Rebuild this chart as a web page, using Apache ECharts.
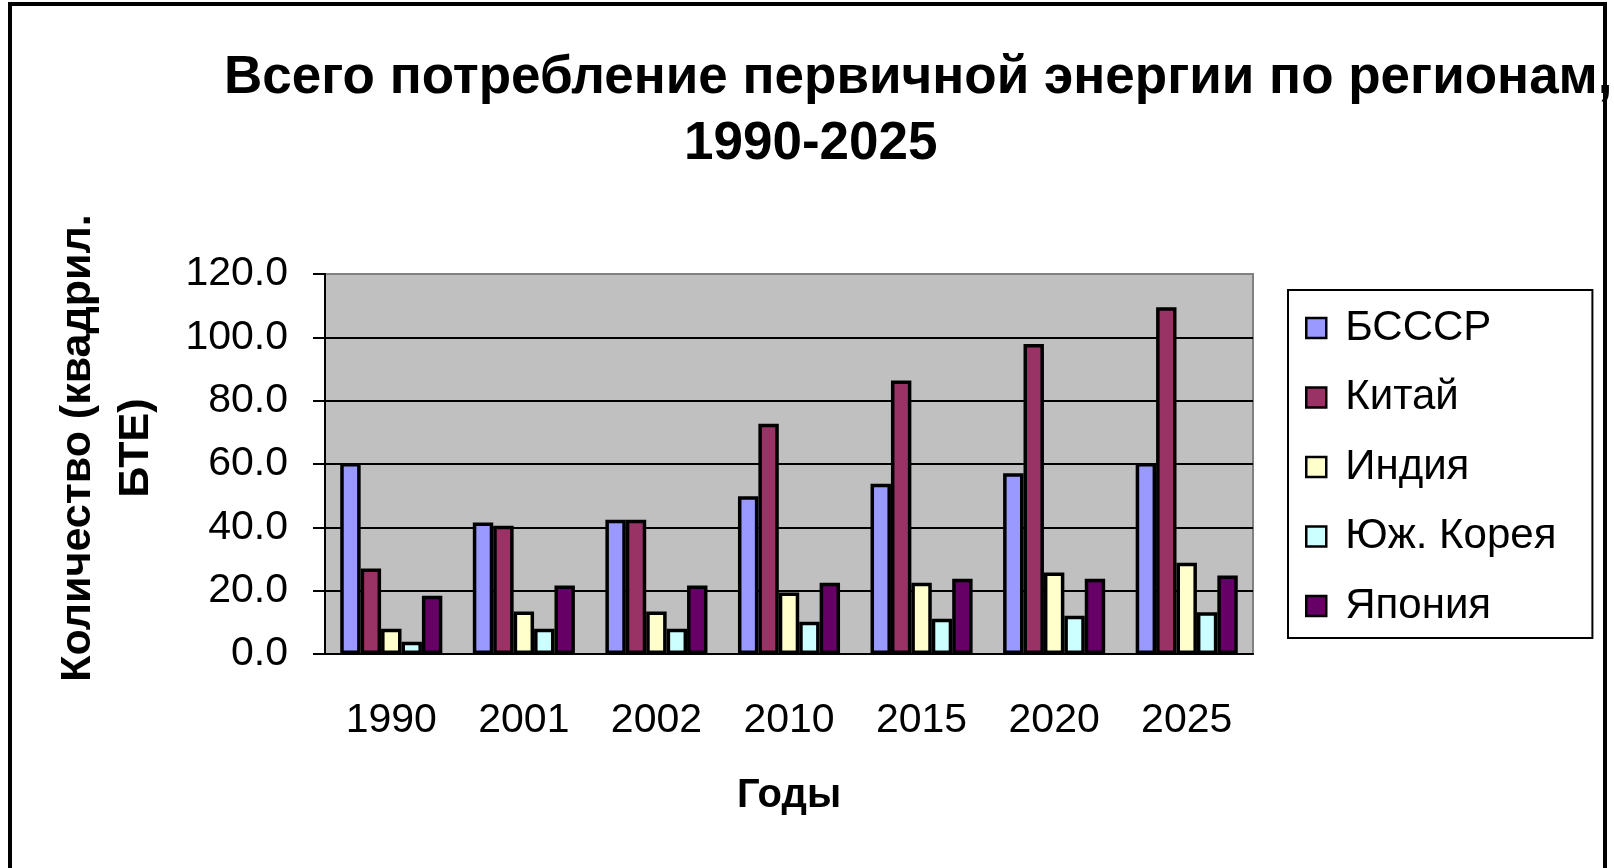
<!DOCTYPE html>
<html>
<head>
<meta charset="utf-8">
<script src="https://cdn.jsdelivr.net/npm/echarts@6/dist/echarts.min.js"></script>
<style>
	html, body { margin: 0; padding: 0; background: #fff; }
	#main { width: 1614px; height: 868px; }
</style>
</head>
<body>
<div id="main"></div>
<script>
// données (quadrillions BTU)
var years = ['1990', '2001', '2002', '2010', '2015', '2020', '2025'];
var regions = ['БСССР', 'Китай', 'Индия', 'Юж. Корея', 'Япония'];
var bsssr = [60.3, 41.5, 42.4, 49.8, 53.8, 57.1, 60.3];
var china = [27.0, 40.5, 42.4, 72.7, 86.4, 97.9, 109.5];
var india = [8.0, 13.4, 13.4, 19.4, 22.5, 25.7, 28.8];
var korea = [3.9, 8.0, 8.0, 10.2, 11.1, 12.1, 13.2];
var japan = [18.4, 21.6, 21.6, 22.5, 23.8, 23.8, 24.8];
var yTicks = [0, 20, 40, 60, 80, 100, 120];

var colors = ['#9999FF', '#993366', '#FFFFCC', '#CCFFFF', '#660066'];
var values = [bsssr, china, india, korea, japan];
var font = 'Liberation Sans, Arial, sans-serif';

var series = [];
for (var i = 0; i < regions.length; i++) {
	series.push({
		name: regions[i],
		type: 'bar',
		data: values[i],
		barGap: '0%',
		barCategoryGap: '23%',
		itemStyle: { color: colors[i], borderColor: '#000', borderWidth: 3.5 }
	});
}

var myChart = echarts.init(document.getElementById('main'));
var option = {
	animation: false,
	textStyle: { fontFamily: font },
	title: [{
		text: 'Всего потребление первичной энергии по регионам,',
		left: 224, top: 52, padding: 0,
		textStyle: { fontFamily: font, fontSize: 53, fontWeight: 'bold', color: '#000' }
	}, {
		text: '1990-2025',
		left: 684, top: 118, padding: 0,
		textStyle: { fontFamily: font, fontSize: 53, fontWeight: 'bold', color: '#000' }
	}],
	graphic: [{
		type: 'rect',
		shape: { x: 10, y: 4, width: 1595, height: 900 },
		style: { fill: 'none', stroke: '#000', lineWidth: 4 },
		z: 100
	}],
	legend: {
		orient: 'vertical',
		left: 1288, top: 290,
		padding: [17, 36, 11, 17],
		itemGap: 27.5,
		itemWidth: 20, itemHeight: 20,
		icon: 'rect',
		backgroundColor: '#fff',
		borderColor: '#000', borderWidth: 2,
		itemStyle: { borderColor: '#000', borderWidth: 2.5 },
		textStyle: { fontFamily: font, fontSize: 42, color: '#000', padding: [0, 0, 0, 14] },
		data: regions
	},
	grid: {
		left: 325, right: 361, top: 274, bottom: 214,
		show: true, backgroundColor: '#C0C0C0',
		borderColor: '#808080', borderWidth: 2
	},
	xAxis: {
		type: 'category',
		data: years,
		name: 'Годы',
		nameLocation: 'middle',
		nameGap: 122,
		nameTextStyle: { fontFamily: font, fontSize: 40, fontWeight: 'bold', color: '#000' },
		axisLine: { lineStyle: { color: '#000', width: 2 } },
		axisTick: { length: 13, lineStyle: { color: '#000', width: 2 } },
		axisLabel: { fontFamily: font, fontSize: 41, color: '#000', margin: 46 }
	},
	yAxis: {
		type: 'value',
		min: yTicks[0], max: yTicks[yTicks.length - 1], interval: 20,
		name: 'Количество (квадрил.\nБТЕ)',
		nameLocation: 'middle',
		nameGap: 160,
		nameTextStyle: {
			fontFamily: font, fontSize: 43, fontWeight: 'bold', color: '#000',
			lineHeight: 58, align: 'center', padding: [0, 0, 0, 32]
		},
		axisLine: { show: true, lineStyle: { color: '#000', width: 2 } },
		axisTick: { show: true, length: 12, lineStyle: { color: '#000', width: 2 } },
		axisLabel: {
			fontFamily: font, fontSize: 41, color: '#000', margin: 37,
			formatter: function (v) { return v.toFixed(1); }
		},
		splitLine: { lineStyle: { color: ['#000', '#000', '#000', '#000', '#000', '#000', '#808080'], width: 2 } }
	},
	series: series
};
myChart.setOption(option);
</script>
</body>
</html>
